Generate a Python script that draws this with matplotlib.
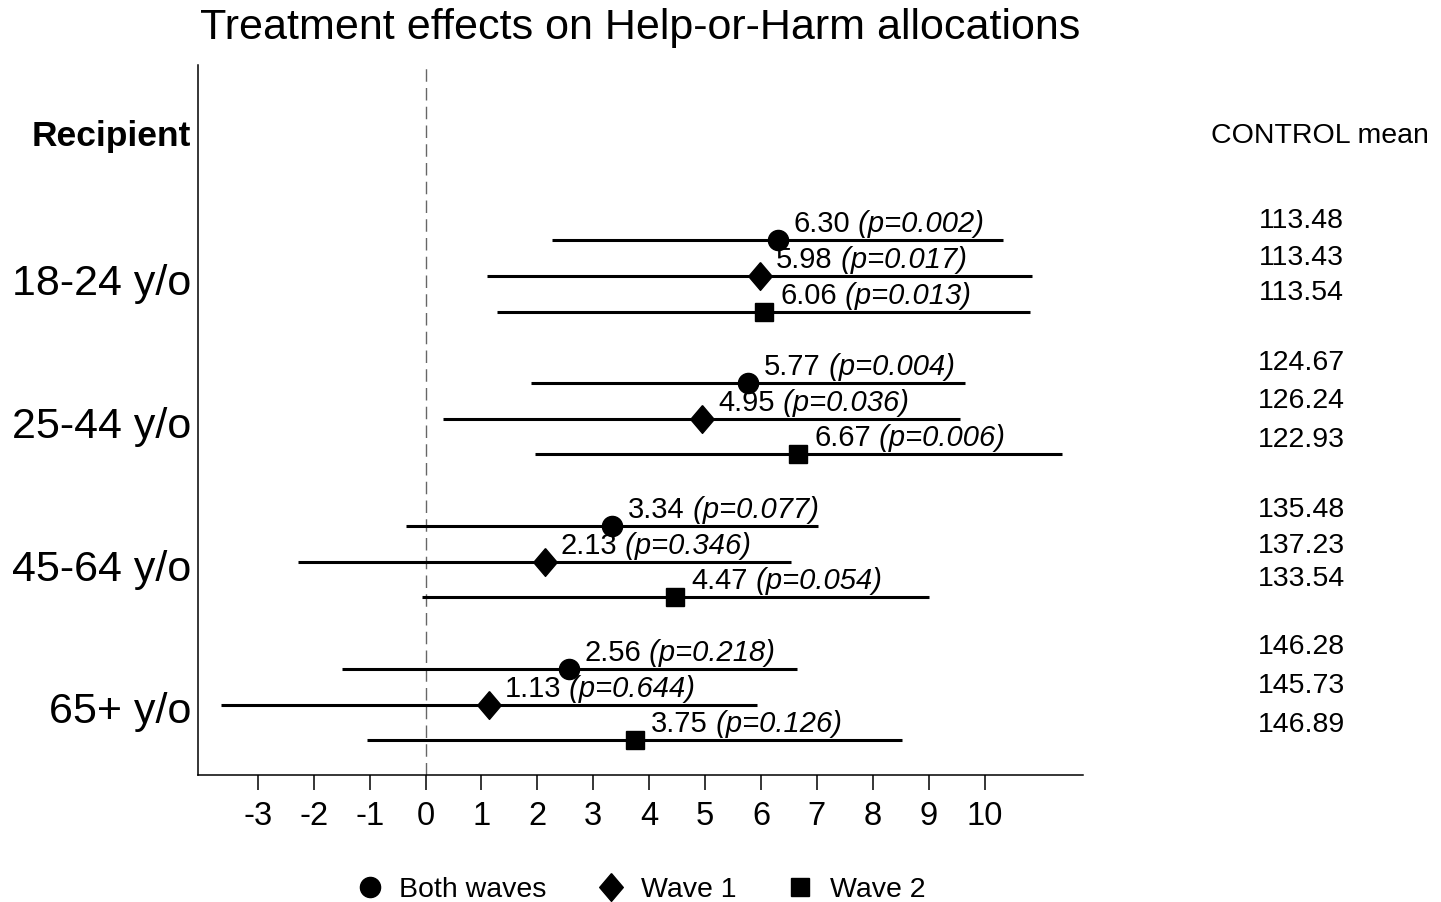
import matplotlib
matplotlib.use("Agg")
import matplotlib.pyplot as plt
import matplotlib.transforms as mtransforms
from matplotlib.lines import Line2D

plt.rcParams['font.family'] = ['Liberation Sans', 'DejaVu Sans']

groups = ['18-24 y/o', '25-44 y/o', '45-64 y/o', '65+ y/o']
series = ['Both waves', 'Wave 1', 'Wave 2']

# point estimates per group, one list per series
est = {
    'Both waves': [6.30, 5.77, 3.34, 2.56],
    'Wave 1':     [5.98, 4.95, 2.13, 1.13],
    'Wave 2':     [6.06, 6.67, 4.47, 3.75],
}
ci_lo = {
    'Both waves': [2.26, 1.89, -0.35, -1.50],
    'Wave 1':     [1.10, 0.32, -2.28, -3.65],
    'Wave 2':     [1.28, 1.95, -0.07, -1.04],
}
ci_hi = {
    'Both waves': [10.33, 9.64, 7.02, 6.64],
    'Wave 1':     [10.84, 9.56, 6.54, 5.93],
    'Wave 2':     [10.82, 11.38, 9.01, 8.53],
}
pvals = {
    'Both waves': ['0.002', '0.004', '0.077', '0.218'],
    'Wave 1':     ['0.017', '0.036', '0.346', '0.644'],
    'Wave 2':     ['0.013', '0.006', '0.054', '0.126'],
}
control_mean = {
    'Both waves': ['113.48', '124.67', '135.48', '146.28'],
    'Wave 1':     ['113.43', '126.24', '137.23', '145.73'],
    'Wave 2':     ['113.54', '122.93', '133.54', '146.89'],
}
xticks = list(range(-3, 11))

# vertical nudge (pixels, upward) of the control-mean labels, per group and series
cm_nudge = [[19, 18, 19], [20, 18, 14], [16, 16, 18], [22, 19, 15]]

diamond = [(0, 1), (0.85, 0), (0, -1), (-0.85, 0), (0, 1)]
markers = {'Both waves': ('o', 14.5), 'Wave 1': (diamond, 20), 'Wave 2': ('s', 13.5)}

fig = plt.figure(figsize=(14.41, 9.02), dpi=100)
ax = fig.add_axes([0.1374, 0.1408, 0.6142, 0.7871])
tr = mtransforms.blended_transform_factory(fig.transFigure, ax.transData)

ax.axvline(0, color='#666666', lw=1.0, dashes=(9, 4.5), zorder=1)

for gi, g in enumerate(groups):
    for si, s in enumerate(series):
        y = 4 * gi + si
        x = est[s][gi]
        ax.hlines(y, ci_lo[s][gi], ci_hi[s][gi], color='black', lw=2.2, zorder=2)
        m, ms = markers[s]
        ax.plot([x], [y], marker=m, ms=ms, color='black', ls='none', zorder=3)
        t1 = ax.annotate(f'{x:.2f}', xy=(x, y), xytext=(16, 8), textcoords='offset pixels',
                         ha='left', va='baseline', fontsize=21, zorder=4)
        ax.annotate(f' (p={pvals[s][gi]})', xy=(1, 0), xycoords=t1, ha='left', va='bottom',
                    fontsize=21, style='italic', zorder=4)
        # control-group mean column on the right
        fig.text(0.903, y, control_mean[s][gi], transform=tr + mtransforms.Affine2D().translate(0, cm_nudge[gi][si]),
                 ha='center', va='center', fontsize=20.5)
    ax.text(-0.0075, 4 * gi + 1.22, g, transform=ax.get_yaxis_transform(),
            ha='right', va='center', fontsize=31)

ax.text(-0.0075, -2.9, 'Recipient', transform=ax.get_yaxis_transform(),
        ha='right', va='center', fontsize=25.5, fontweight='bold')
fig.text(0.916, -2.9, 'CONTROL mean', transform=tr, ha='center', va='center', fontsize=20.5)

ax.set_xlim(-4.07, 11.76)
ax.set_ylim(14.97, -4.9)
ax.set_xticks(xticks)
ax.set_xticklabels([str(t) for t in xticks])
ax.set_yticks([])
ax.tick_params(axis='x', direction='out', length=11, width=1.1, pad=8, labelsize=23.5)
for side in ('top', 'right'):
    ax.spines[side].set_visible(False)
for side in ('left', 'bottom'):
    ax.spines[side].set_linewidth(1.1)

fig.text(0.4445, 0.969, 'Treatment effects on Help-or-Harm allocations',
         ha='center', va='center', fontsize=31)

handles = [Line2D([], [], marker=markers[s][0], ms=markers[s][1], color='black', ls='none')
           for s in series]
fig.legend(handles, series, loc='center', bbox_to_anchor=(0.4445, 0.0135), ncol=3,
           frameon=False, fontsize=20.5, handlelength=1.0, handletextpad=0.55,
           columnspacing=1.75)

fig.savefig('out.png', dpi=100)
